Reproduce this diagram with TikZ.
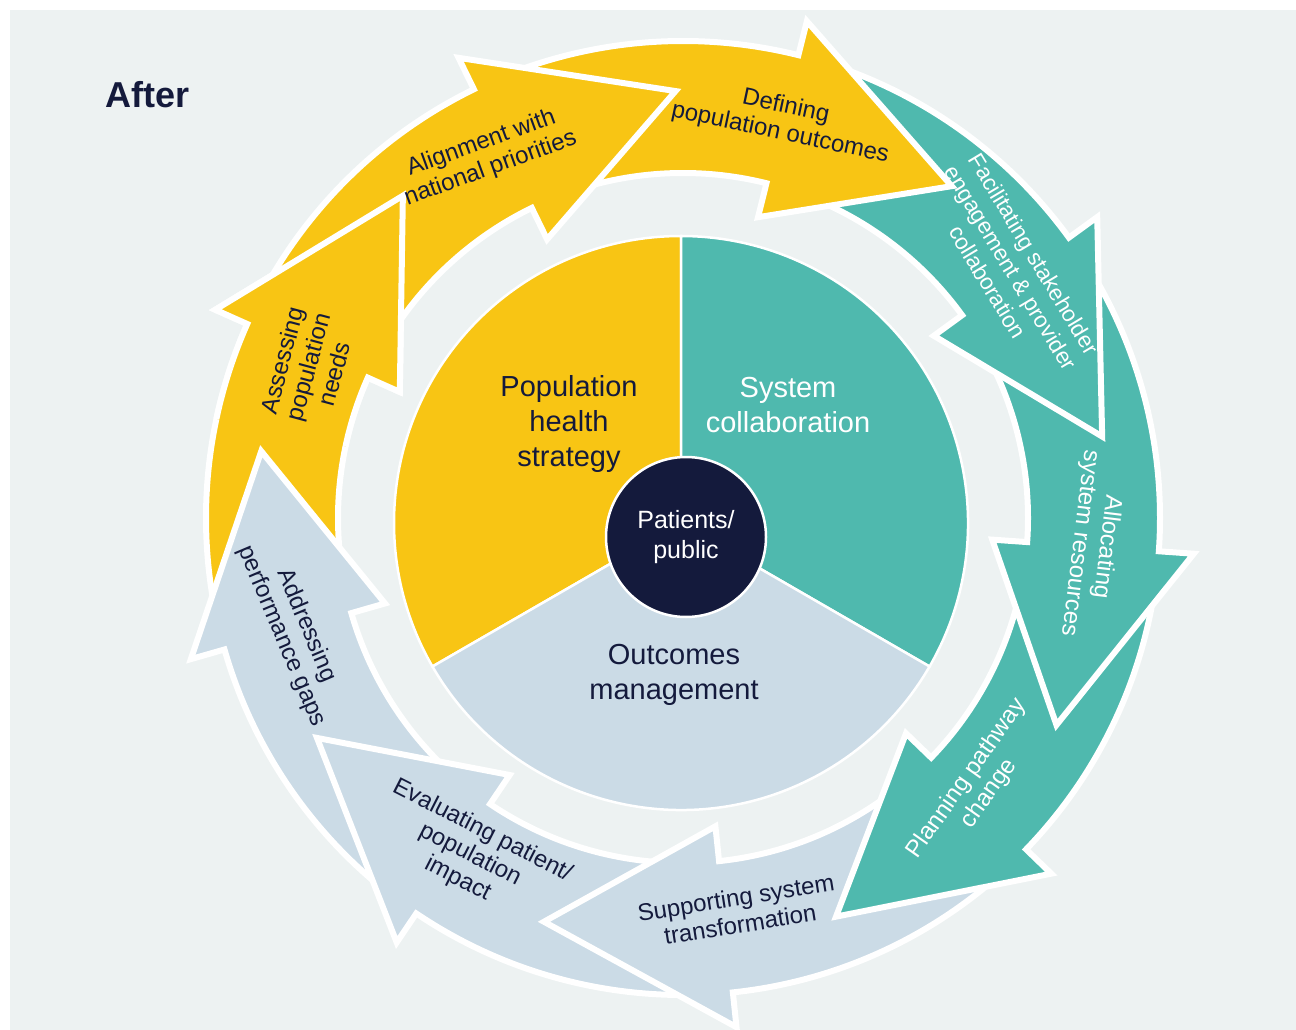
\documentclass[tikz,border=0pt]{standalone}
\usepackage{fontspec}
\setmainfont{Liberation Sans}
\definecolor{bgc}{HTML}{EDF2F2}
\definecolor{yel}{HTML}{F8C514}
\definecolor{teal}{HTML}{4FB9AE}
\definecolor{blu}{HTML}{CBDBE6}
\definecolor{navy}{HTML}{141A3C}
% one curved arrow of the ring: #1 = angle of the head base, #2 = colour
\newcommand{\ringarrow}[2]{%
  \filldraw[fill=#2, draw=white, line width=6pt, line join=miter]
    ({#1+37}:477) arc[start angle={#1+37}, end angle=#1, radius=477]
    -- (#1:512) -- ({#1-25}:427) -- (#1:310) -- (#1:345)
    arc[start angle=#1, end angle={#1+37}, radius=345] -- cycle;}
\tikzset{
  steptext/.style={align=center, text=navy, font=\fontsize{24}{27}\selectfont},
  pietext/.style={align=center, text=navy, font=\fontsize{29}{35}\selectfont}
}
\begin{document}
\begin{tikzpicture}[x=1pt,y=1pt]
\useasboundingbox (0,0) rectangle (1296,-1030);
\fill[bgc] (10,-10) rectangle (1296,-1030);
\node[anchor=west, text=navy, font=\bfseries\fontsize{36}{40}\selectfont] (title) at (102,-95) {After};
% ring of arrows, drawn so that each head lies over the next tail
\begin{scope}[shift={(683,-518)}]
\ringarrow{156}{yel}
\ringarrow{-164}{blu}
\ringarrow{-124}{blu}
\ringarrow{-84}{blu}
\ringarrow{-44}{teal}
\ringarrow{-4}{teal}
\ringarrow{36}{teal}
\ringarrow{76}{yel}
\ringarrow{116}{yel}
\begin{scope}
\clip (0,0) -- (168:700) arc[start angle=168, end angle=118, radius=700] -- cycle;
\ringarrow{156}{yel}
\end{scope}
\end{scope}
% inner pie
\begin{scope}[shift={(681,-523)}]
\filldraw[fill=yel, draw=white, line width=2.5pt] (0,0) -- (90:287) arc[start angle=90, end angle=210, radius=287] -- cycle;
\filldraw[fill=teal, draw=white, line width=2.5pt] (0,0) -- (-30:287) arc[start angle=-30, end angle=90, radius=287] -- cycle;
\filldraw[fill=blu, draw=white, line width=2.5pt] (0,0) -- (210:287) arc[start angle=210, end angle=330, radius=287] -- cycle;
\end{scope}
\node[circle, fill=navy, draw=white, line width=2.5pt, minimum size=160pt, inner sep=0pt, align=center, text=white, font=\fontsize{25}{30}\selectfont] (pub) at (686,-537) {Patients/\\public};
\node[pietext] (strat) at (569,-424) {Population\\health\\strategy};
\node[pietext, text=white] (sys) at (788,-405) {System\\collaboration};
\node[pietext] (outc) at (674,-675) {Outcomes\\management};
% step labels
\node[steptext, rotate=75] (assess) at (308,-367) {Assessing\\population\\needs};
\node[steptext, rotate=20] (align) at (486,-156) {Alignment with\\national priorities};
\node[steptext, rotate=-12] (define) at (783,-120) {Defining\\population outcomes};
\node[steptext, text=white, rotate=-59, font=\fontsize{22.5}{27}\selectfont] (facil) at (1011,-268) {Facilitating stakeholder\\engagement \& provider\\collaboration};
\node[steptext, text=white, rotate=-97] (alloc) at (1093,-545) {Allocating\\system resources};
\node[steptext, text=white, rotate=55] (plan) at (978,-786) {Planning pathway\\change};
\node[steptext, rotate=9] (support) at (738,-911) {Supporting system\\transformation};
\node[steptext, rotate=-27] (eval) at (470,-855) {Evaluating patient/\\population\\impact};
\node[steptext, rotate=-67] (address) at (294,-631) {Addressing\\performance gaps};
\end{tikzpicture}
\end{document}
